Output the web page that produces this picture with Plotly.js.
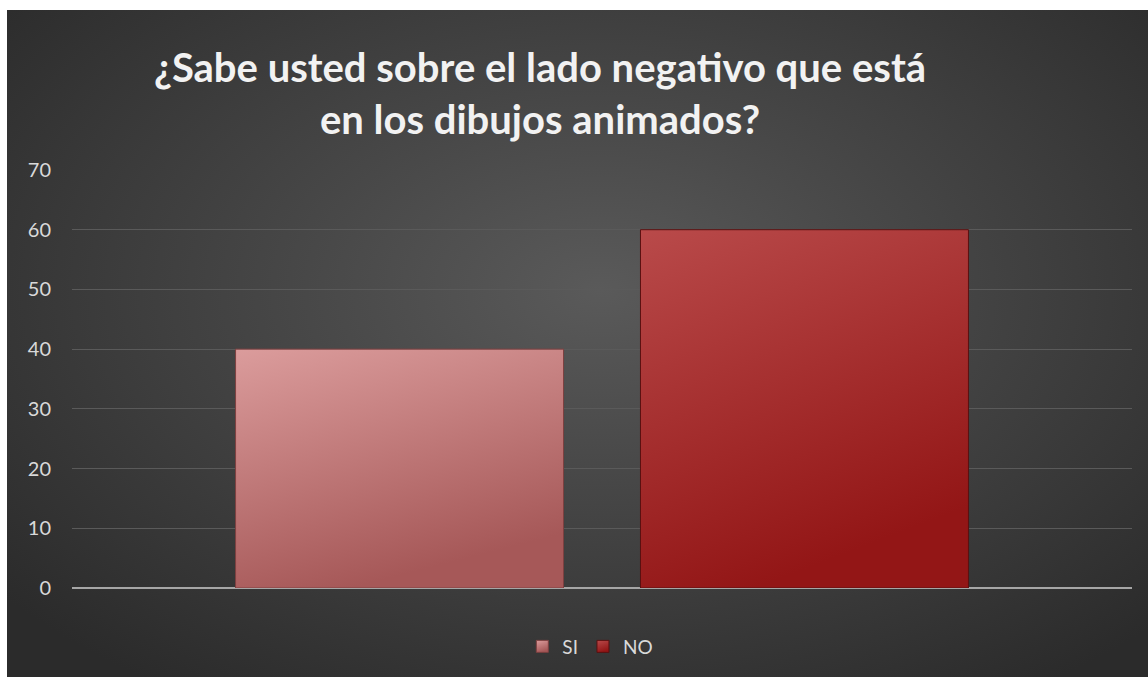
<!DOCTYPE html>
<html>
<head>
<meta charset="utf-8">
<script src="https://cdn.plot.ly/plotly-3.0.1.min.js"></script>
<style>
  html, body { margin: 0; padding: 0; background: #ffffff; }
  #bg { position: absolute; left: 7px; top: 10px; width: 1141px; height: 667px;
        background: radial-gradient(ellipse 68% 72% at 52% 42%, #5a5a5a 0%, #474747 40%, #2b2b2b 100%); }
  #chart { position: absolute; left: 0; top: 0; width: 1148px; height: 677px; }
</style>
</head>
<body>
<div id="bg"></div>
<div id="chart"></div>
<script>
const categories = [''];
const seriesNames = ['SI', 'NO'];
const siValues = [40];
const noValues = [60];
const yTicks = [0, 10, 20, 30, 40, 50, 60, 70];
const titleText = '¿Sabe usted sobre el lado negativo que está<br>en los dibujos animados?';
const seriesColors = ['#c47c7c', '#a83232'];
const gradientStops = [['#db9c9c', '#a65858'], ['#b94a4a', '#931616']];
const edgeColors = ['#7e4040', '#5a1010'];

const traces = [
  {
    type: 'bar', name: seriesNames[0], x: categories, y: siValues,
    marker: { color: seriesColors[0], line: { color: edgeColors[0], width: 1 } },
    hoverinfo: 'y+name'
  },
  {
    type: 'bar', name: seriesNames[1], x: categories, y: noValues,
    marker: { color: seriesColors[1], line: { color: edgeColors[1], width: 1 } },
    hoverinfo: 'y+name'
  }
];

const layout = {
  width: 1148, height: 677,
  paper_bgcolor: 'rgba(0,0,0,0)',
  plot_bgcolor: 'rgba(0,0,0,0)',
  margin: { l: 72, r: 16, t: 170, b: 86 },
  barmode: 'group',
  bargap: 0.236,
  bargroupgap: 0.19,
  font: { family: 'Lato, "Open Sans", sans-serif', color: '#d9d9d9', size: 19 },
  title: {
    text: titleText,
    font: { family: 'Lato, "Open Sans", sans-serif', size: 40, color: '#f2f2f2', weight: 'bold' },
    x: 540 / 1148, xanchor: 'center', xref: 'container',
    y: 1 - 82 / 677, yanchor: 'middle', yref: 'container'
  },
  xaxis: {
    showticklabels: false, showgrid: false, zeroline: false,
    showline: false, ticks: '', fixedrange: true
  },
  yaxis: {
    range: [0, 70], tickvals: yTicks, ticktext: yTicks.map(String),
    showgrid: true, gridcolor: '#5a5a5a', gridwidth: 1,
    zeroline: true, zerolinecolor: '#a6a6a6', zerolinewidth: 2,
    showline: false, ticks: '', ticklabelstandoff: 20,
    tickfont: { size: 20, color: '#d9d9d9' }, fixedrange: true
  },
  legend: {
    orientation: 'h', x: 0.489, xanchor: 'center', y: -0.14, yanchor: 'middle',
    font: { size: 19, color: '#d9d9d9' }, itemwidth: 30, bgcolor: 'rgba(0,0,0,0)'
  },
  showlegend: true
};

Plotly.newPlot('chart', traces, layout, { displayModeBar: false, staticPlot: true }).then(function (gd) {
  const svg = gd.querySelector('svg.main-svg');
  const ns = 'http://www.w3.org/2000/svg';
  let defs = svg.querySelector('defs');
  if (!defs) { defs = document.createElementNS(ns, 'defs'); svg.insertBefore(defs, svg.firstChild); }
  gradientStops.forEach(function (st, i) {
    const g = document.createElementNS(ns, 'linearGradient');
    g.setAttribute('id', 'barGrad' + i);
    g.setAttribute('x1', '0'); g.setAttribute('y1', '0');
    g.setAttribute('x2', '0.35'); g.setAttribute('y2', '1');
    [[0, st[0]], [1, st[1]]].forEach(function (s) {
      const stop = document.createElementNS(ns, 'stop');
      stop.setAttribute('offset', s[0]);
      stop.setAttribute('stop-color', s[1]);
      g.appendChild(stop);
    });
    defs.appendChild(g);
  });
  gd.querySelectorAll('.barlayer .trace').forEach(function (tr, i) {
    tr.querySelectorAll('path').forEach(function (p) { p.style.fill = 'url(#barGrad' + i + ')'; });
  });
  gd.querySelectorAll('.legend .traces').forEach(function (tr, i) {
    tr.querySelectorAll('.legendpoints path').forEach(function (p) { p.style.fill = 'url(#barGrad' + i + ')'; });
  });
});
</script>
</body>
</html>
